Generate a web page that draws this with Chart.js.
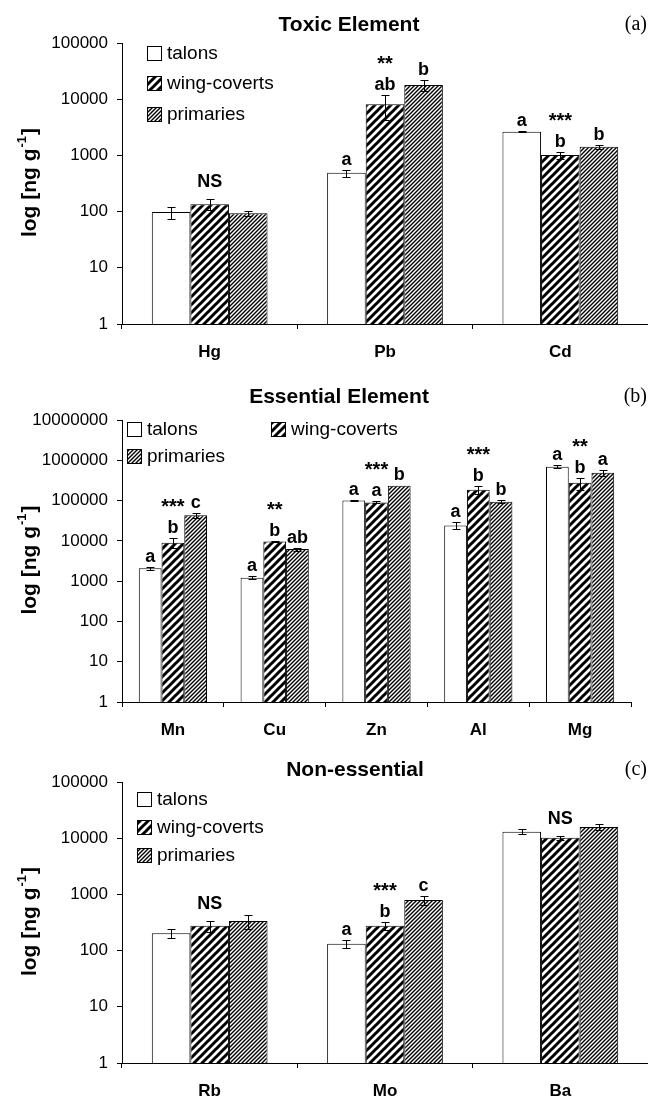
<!DOCTYPE html>
<html lang="en">
<head>
<meta charset="UTF-8">
<title>Element concentrations in feathers and talons</title>
<script src="https://cdn.jsdelivr.net/npm/chart.js"></script>
<style>
  body { margin: 0; background: #fff; }
  #wrap { position: relative; width: 648px; height: 1099px; }
  #wrap canvas { position: absolute; left: 0; }
</style>
</head>
<body>
<div id="wrap">
  <canvas id="chartA" width="648" height="370" style="top:0px"></canvas>
  <canvas id="chartB" width="648" height="370" style="top:375px"></canvas>
  <canvas id="chartC" width="648" height="354" style="top:745px"></canvas>
</div>
<script>
// ---- data (ng/g) ----
const toxicCats = ['Hg', 'Pb', 'Cd'];
const toxicTalons = [98, 490, 2640];
const toxicTalonsErr = [25, 70, 80];
const toxicWing = [135, 8100, 1020];
const toxicWingErr = [30, 3800, 140];
const toxicPrim = [93, 17900, 1430];
const toxicPrimErr = [8, 4000, 130];
const toxicTalonsSig = ['', 'a', 'a'];
const toxicWingSig = ['', 'ab', 'b'];
const toxicPrimSig = ['', 'b', 'b'];
const toxicMarks = ['NS', '**', '***'];

const essCats = ['Mn', 'Cu', 'Zn', 'Al', 'Mg'];
const essTalons = [2080, 1215, 101000, 24200, 690000];
const essTalonsErr = [200, 100, 3000, 5000, 60000];
const essWing = [9000, 9700, 90000, 186000, 277000];
const essWingErr = [2500, 300, 5000, 40000, 90000];
const essPrim = [43000, 6260, 233000, 93000, 490000];
const essPrimErr = [5000, 500, 0, 8000, 80000];
const essTalonsSig = ['a', 'a', 'a', 'a', 'a'];
const essWingSig = ['b', 'b', 'a', 'b', 'b'];
const essPrimSig = ['c', 'ab', 'b', 'b', 'a'];
const essMarks = ['***', '**', '***', '***', '**'];

const nonCats = ['Rb', 'Mo', 'Ba'];
const nonTalons = [203, 133, 13060];
const nonTalonsErr = [38, 20, 1300];
const nonWing = [277, 277, 10200];
const nonWingErr = [60, 45, 900];
const nonPrim = [336, 795, 15800];
const nonPrimErr = [90, 160, 2000];
const nonTalonsSig = ['', 'a', ''];
const nonWingSig = ['', 'b', ''];
const nonPrimSig = ['', 'c', ''];
const nonMarks = ['NS', '***', 'NS'];

const seriesNames = ['talons', 'wing-coverts', 'primaries'];

const FONT = "'Liberation Sans', Arial, sans-serif";

// diagonal "/" hatch
function stripes(period, width) {
    var c = document.createElement('canvas');
    c.width = period; c.height = period;
    var g = c.getContext('2d');
    g.fillStyle = '#fff';
    g.fillRect(0, 0, period, period);
    g.strokeStyle = '#000';
    g.lineWidth = width;
    g.lineCap = 'square';
    g.beginPath();
    for (var k = -1; k <= 1; k++) {
        g.moveTo(k * period, period);
        g.lineTo(k * period + period, 0);
    }
    g.stroke();
    return g.createPattern(c, 'repeat');
}
const wingFill = stripes(8, 3);
const primFill = stripes(4, 1.4);
const fills = ['#fff', wingFill, primFill];

const decor = {
    id: 'decor',
    afterDatasetsDraw(chart, args, o) {
        var ctx = chart.ctx, y = chart.scales.y;
        var tops = [];
        ctx.save();
        ctx.strokeStyle = '#000';
        ctx.lineWidth = 1;
        ctx.fillStyle = '#000';
        ctx.textAlign = 'center';
        ctx.textBaseline = 'alphabetic';
        ctx.font = 'bold 18px ' + FONT;
        chart.data.datasets.forEach(function (ds, i) {
            tops[i] = [];
            chart.getDatasetMeta(i).data.forEach(function (bar, j) {
                var v = ds.data[j], e = ds.errors[j];
                var top = bar.y;
                if (e) {
                    var yt = Math.round(y.getPixelForValue(v + e)) + 0.5;
                    var yb = Math.round(y.getPixelForValue(Math.max(v - e, 1))) + 0.5;
                    var x = Math.round(bar.x) + 0.5;
                    ctx.beginPath();
                    ctx.moveTo(x, yt); ctx.lineTo(x, yb);
                    ctx.moveTo(x - 4, yt); ctx.lineTo(x + 4, yt);
                    ctx.moveTo(x - 4, yb); ctx.lineTo(x + 4, yb);
                    ctx.stroke();
                    top = yt;
                }
                tops[i][j] = top;
                if (ds.sig[j]) ctx.fillText(ds.sig[j], bar.x, top - 6);
            });
        });
        // significance marks over the middle bar
        var mid = chart.getDatasetMeta(1).data;
        o.marks.forEach(function (m, j) {
            var t = tops[1][j];
            var hasSig = chart.data.datasets[1].sig[j];
            if (m === 'NS') {
                ctx.font = 'bold 18px ' + FONT;
                ctx.fillText(m, mid[j].x, t - 13);
            } else {
                ctx.font = 'bold 20px ' + FONT;
                ctx.fillText(m, mid[j].x, hasSig ? t - 26 : t - 14);
            }
        });
        ctx.restore();
    },
    afterDraw(chart, args, o) {
        var ctx = chart.ctx, area = chart.chartArea;
        ctx.save();
        ctx.fillStyle = '#000';
        ctx.textBaseline = 'middle';
        // title and panel tag
        ctx.textAlign = 'center';
        ctx.font = 'bold 21px ' + FONT;
        ctx.fillText(o.title, o.titleX, o.titleY);
        ctx.textAlign = 'right';
        ctx.font = "20px 'Liberation Serif', 'Times New Roman', serif";
        ctx.fillText(o.tag, 647, o.titleY);
        // legend
        ctx.textAlign = 'left';
        ctx.font = '19px ' + FONT;
        o.legend.forEach(function (it, i) {
            ctx.fillStyle = fills[i];
            ctx.fillRect(it.x, it.y - 7, 15, 15);
            ctx.strokeStyle = '#000';
            ctx.lineWidth = 1;
            ctx.strokeRect(it.x + 0.5, it.y - 6.5, 14, 14);
            ctx.fillStyle = '#000';
            ctx.fillText(seriesNames[i], it.x + 20, it.y + 1);
        });
        // y axis title with superscript
        ctx.translate(29, (area.top + area.bottom) / 2);
        ctx.rotate(-Math.PI / 2);
        var big = 'bold 21px ' + FONT, small = 'bold 13px ' + FONT;
        var p1 = 'log [ng g', p2 = '-1', p3 = ']';
        ctx.font = big;
        var w1 = ctx.measureText(p1).width, w3 = ctx.measureText(p3).width;
        ctx.font = small;
        var w2 = ctx.measureText(p2).width;
        var x0 = -(w1 + w2 + w3) / 2;
        ctx.textBaseline = 'alphabetic';
        ctx.font = big;
        ctx.fillText(p1, x0, 7);
        ctx.font = small;
        ctx.fillText(p2, x0 + w1 + 1, -3);
        ctx.font = big;
        ctx.fillText(p3, x0 + w1 + w2 + 2, 7);
        ctx.restore();
    }
};

function makePanel(id, cats, vals, errs, sigs, marks, maxY, geo) {
    var datasets = seriesNames.map(function (name, i) {
        return {
            label: name,
            data: vals[i],
            errors: errs[i],
            sig: sigs[i],
            backgroundColor: fills[i],
            borderColor: '#000',
            borderWidth: 1,
            categoryPercentage: geo.catPct,
            barPercentage: 1.0
        };
    });
    var yTicks = [];
    for (var v = 1; v <= maxY; v *= 10) yTicks.push(v);
    return new Chart(document.getElementById(id), {
        type: 'bar',
        data: { labels: cats, datasets: datasets },
        options: {
            responsive: false,
            animation: false,
            layout: { padding: { top: geo.top, right: geo.right, left: 0, bottom: 0 } },
            plugins: {
                legend: { display: false },
                tooltip: { enabled: false },
                decor: {
                    title: geo.title, tag: geo.tag, titleX: geo.titleX, titleY: geo.titleY,
                    legend: geo.legend, marks: marks
                }
            },
            scales: {
                x: {
                    offset: true,
                    grid: { offset: true, drawOnChartArea: false, tickLength: 5, color: '#000' },
                    border: { color: '#000', width: 1 },
                    ticks: { color: '#000', padding: 13, font: { family: FONT, size: 17, weight: 'bold' } },
                    afterFit: function (s) { s.height = geo.xh; }
                },
                y: {
                    type: 'logarithmic',
                    min: 1,
                    max: maxY,
                    afterBuildTicks: function (s) { s.ticks = yTicks.map(function (t) { return { value: t }; }); },
                    grid: { drawOnChartArea: false, tickLength: 5, color: '#000' },
                    border: { color: '#000', width: 1 },
                    ticks: {
                        color: '#000', padding: 9,
                        font: { family: FONT, size: 17 },
                        callback: function (val) { return String(val); }
                    },
                    afterFit: function (s) { s.width = 122; }
                }
            }
        },
        plugins: [decor]
    });
}

makePanel('chartA', toxicCats,
    [toxicTalons, toxicWing, toxicPrim],
    [toxicTalonsErr, toxicWingErr, toxicPrimErr],
    [toxicTalonsSig, toxicWingSig, toxicPrimSig],
    toxicMarks, 100000,
    { top: 43, right: 0, xh: 46, catPct: 0.66, title: 'Toxic Element', tag: '(a)', titleX: 349, titleY: 25,
      legend: [{ x: 147, y: 53 }, { x: 147, y: 83 }, { x: 147, y: 114 }] });

makePanel('chartB', essCats,
    [essTalons, essWing, essPrim],
    [essTalonsErr, essWingErr, essPrimErr],
    [essTalonsSig, essWingSig, essPrimSig],
    essMarks, 10000000,
    { top: 45, right: 17, xh: 43, catPct: 0.67, title: 'Essential Element', tag: '(b)', titleX: 339, titleY: 22,
      legend: [{ x: 127, y: 54 }, { x: 271, y: 54 }, { x: 127, y: 81 }] });

makePanel('chartC', nonCats,
    [nonTalons, nonWing, nonPrim],
    [nonTalonsErr, nonWingErr, nonPrimErr],
    [nonTalonsSig, nonWingSig, nonPrimSig],
    nonMarks, 100000,
    { top: 37, right: 0, xh: 36, catPct: 0.66, title: 'Non-essential', tag: '(c)', titleX: 355, titleY: 25,
      legend: [{ x: 137, y: 54 }, { x: 137, y: 82 }, { x: 137, y: 110 }] });
</script>
</body>
</html>
